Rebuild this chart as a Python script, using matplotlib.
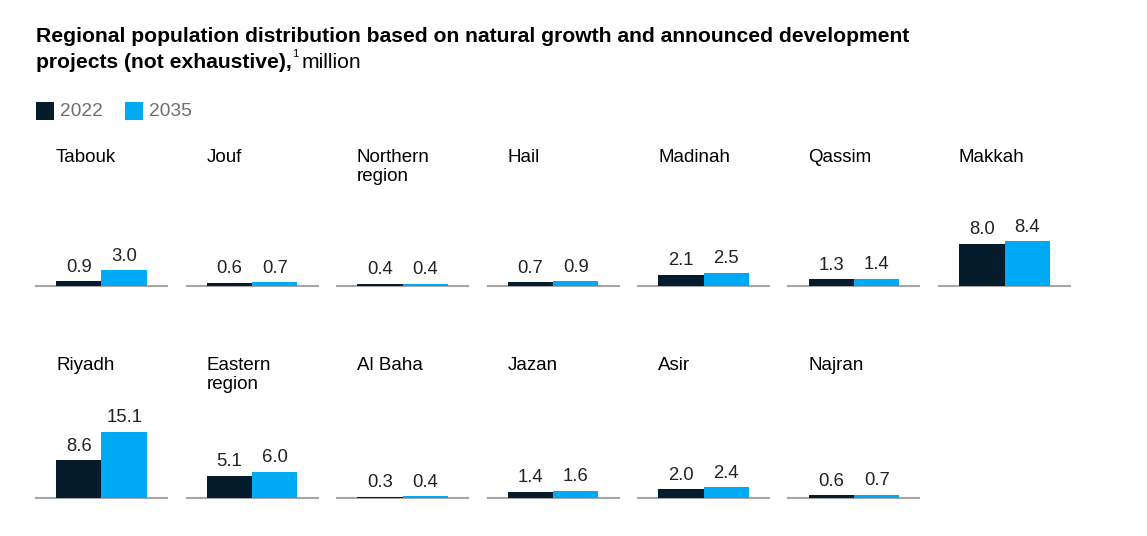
import matplotlib.pyplot as plt

# data
regions_top = ["Tabouk", "Jouf", "Northern\nregion", "Hail", "Madinah", "Qassim", "Makkah"]
pop2022_top = [0.9, 0.6, 0.4, 0.7, 2.1, 1.3, 8.0]
pop2035_top = [3.0, 0.7, 0.4, 0.9, 2.5, 1.4, 8.4]

regions_bottom = ["Riyadh", "Eastern\nregion", "Al Baha", "Jazan", "Asir", "Najran"]
pop2022_bottom = [8.6, 5.1, 0.3, 1.4, 2.0, 0.6]
pop2035_bottom = [15.1, 6.0, 0.4, 1.6, 2.4, 0.7]

years = ["2022", "2035"]

DARK = "#051C2C"
LIGHT = "#00A9F4"
W, H = 1147, 536

plt.rcParams['font.family'] = ['Liberation Sans', 'DejaVu Sans']

fig = plt.figure(figsize=(W / 100, H / 100), dpi=100)
bg = fig.add_axes([0, 0, 1, 1])
bg.set_xlim(0, W)
bg.set_ylim(H, 0)
bg.axis('off')

# title
bg.text(36, 27, "Regional population distribution based on natural growth and announced development",
        fontsize=15.2, fontweight='bold', color='black', va='top')
t2 = bg.text(36, 53, "projects (not exhaustive),", fontsize=15.2, fontweight='bold',
             color='black', va='top')
bg.annotate("1", xy=(1, 1), xycoords=t2, xytext=(0, 3), textcoords='offset points',
            fontsize=8, va='top', ha='left')
bg.annotate("million", xy=(1, 0), xycoords=t2, xytext=(7, 0), textcoords='offset points',
            fontsize=15.2, va='bottom', ha='left')

# legend
for x0, lab, col in [(36, years[0], DARK), (125, years[1], LIGHT)]:
    bg.add_patch(plt.Rectangle((x0, 102), 18, 18, color=col, lw=0))
    bg.text(x0 + 24, 111, lab, fontsize=13.8, color='#6E6E6E', va='center', ha='left')

col_x = [36, 186.5, 337, 487.5, 638, 788.5, 939]


def draw_row(names, v22, v35, baseline, label_top, px_per_unit):
    for i, name in enumerate(names):
        x0 = col_x[i]
        ax = fig.add_axes([x0 / W, (H - baseline) / H, 131 / W, 100 / H])
        ax.bar([0], [v22[i]], width=1, color=DARK, lw=0, zorder=3)
        ax.bar([1], [v35[i]], width=1, color=LIGHT, lw=0, zorder=3)
        ax.set_xlim(-0.94, 1.94)
        ax.set_ylim(0, 100 / px_per_unit)
        for j, v in enumerate([v22[i], v35[i]]):
            ax.annotate(f"{v:.1f}", (j, v), xytext=(0, 4), textcoords='offset points',
                        ha='center', va='bottom', fontsize=13.3, color='#222222')
        for s in ['top', 'left', 'right']:
            ax.spines[s].set_visible(False)
        ax.spines['bottom'].set_color('#A6A6A6')
        ax.spines['bottom'].set_linewidth(1.5)
        ax.spines['bottom'].set_zorder(1)
        ax.set_xticks([])
        ax.set_yticks([])
        ax.patch.set_alpha(0)
        bg.text(x0 + 20, label_top, name, fontsize=13.5, color='black', va='top',
                ha='left', linespacing=1.12)


draw_row(regions_top, pop2022_top, pop2035_top, 286, 149, 5.3)
draw_row(regions_bottom, pop2022_bottom, pop2035_bottom, 498, 357, 4.4)

fig.savefig("out.png", dpi=100)
